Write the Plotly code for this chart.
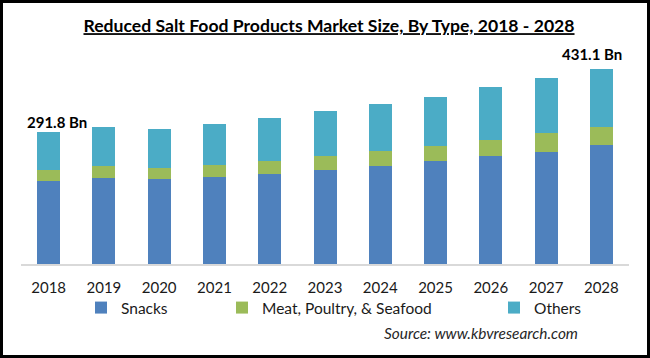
import plotly.graph_objects as go

years = ["2018", "2019", "2020", "2021", "2022", "2023", "2024", "2025", "2026", "2027", "2028"]
snacks = [183.0, 189.0, 186.8, 191.8, 198.5, 207.3, 216.8, 227.8, 238.0, 247.6, 261.7]
meat = [24.3, 26.5, 24.3, 26.5, 28.7, 30.2, 33.1, 33.1, 36.0, 40.6, 39.7]
others = [84.5, 86.7, 87.3, 90.4, 94.8, 99.2, 102.3, 108.0, 115.5, 122.0, 129.7]
series_names = ["Snacks", "Meat, Poultry, & Seafood", "Others"]
colors = ["#4F81BD", "#9BBB59", "#4BACC6"]
label_first = "291.8 Bn"
label_last = "431.1 Bn"

W, H = 650, 358
ML, MR, MT, MB = 21, 21, 50, 94
PW = W - ML - MR
PH = H - MT - MB
YMAX = 471.9

FONT = "Lato, 'Open Sans', sans-serif"

def px_to_paper_x(px):
    return (px - ML) / PW

def px_to_paper_y(py):
    return (H - MB - py) / PH

fig = go.Figure()
legend_names = ["legend", "legend2", "legend3"]
for name, vals, col, lg in zip(series_names, [snacks, meat, others], colors, legend_names):
    fig.add_trace(go.Bar(x=years, y=vals, name=name, marker=dict(color=col, line=dict(width=0)),
                         legend=lg))

totals = [s + m + o for s, m, o in zip(snacks, meat, others)]

legend_common = dict(orientation="h", yanchor="middle", xanchor="left",
                     font=dict(family=FONT, size=15.5, color="#1a1a1a"),
                     bgcolor="rgba(0,0,0,0)", borderwidth=0, itemwidth=30)
leg_y = px_to_paper_y(308)

fig.update_layout(
    width=W, height=H,
    margin=dict(l=ML, r=MR, t=MT, b=MB, autoexpand=False),
    paper_bgcolor="white", plot_bgcolor="white",
    barmode="stack", bargap=0.584,
    title=dict(text="<u>Reduced Salt Food Products Market Size, By Type, 2018 - 2028</u>",
               x=329 / W, xanchor="center", y=1 - 26 / H, yanchor="middle",
               font=dict(family=FONT, size=17.6, color="#000000", weight="bold")),
    xaxis=dict(type="category", categoryorder="array", categoryarray=years,
               range=[-0.5, len(years) - 0.5],
               showline=True, linecolor="#D9D9D9", linewidth=2, ticks="",
               ticklabelstandoff=9,
               tickfont=dict(family=FONT, size=15, color="#1a1a1a"), showgrid=False,
               automargin=False),
    yaxis=dict(range=[0, YMAX], showticklabels=False, showgrid=False, zeroline=False, showline=False,
               automargin=False),
    legend=dict(x=px_to_paper_x(81), y=leg_y, **legend_common),
    legend2=dict(x=px_to_paper_x(222), y=leg_y, **legend_common),
    legend3=dict(x=px_to_paper_x(494), y=leg_y, **legend_common),
    showlegend=True,
)

fig.add_annotation(x=0, y=totals[0], text="<b>" + label_first + "</b>", showarrow=False,
                   xanchor="center", yanchor="bottom", xshift=8.5, yshift=-1,
                   font=dict(family=FONT, size=15, color="#000000"))
fig.add_annotation(x=len(years) - 1, y=totals[-1], text="<b>" + label_last + "</b>", showarrow=False,
                   xanchor="center", yanchor="bottom", xshift=-9, yshift=4,
                   font=dict(family=FONT, size=15, color="#000000"))
fig.add_annotation(x=px_to_paper_x(580), y=px_to_paper_y(333), xref="paper", yref="paper",
                   text="<i>Source: www.kbvresearch.com</i>", showarrow=False,
                   xanchor="right", yanchor="middle",
                   font=dict(family=FONT, size=15.4, color="#262626"))

fig.add_shape(type="rect", xref="paper", yref="paper",
              x0=px_to_paper_x(1.5), x1=px_to_paper_x(W - 1.5),
              y0=px_to_paper_y(H - 1.5), y1=px_to_paper_y(1.5),
              line=dict(color="black", width=3), fillcolor="rgba(0,0,0,0)", layer="above")

fig.write_html("out.html",
               config={"displayModeBar": False},
               post_script="document.body.style.margin='0';document.body.style.padding='0';"
                           "document.body.style.overflow='hidden';")
